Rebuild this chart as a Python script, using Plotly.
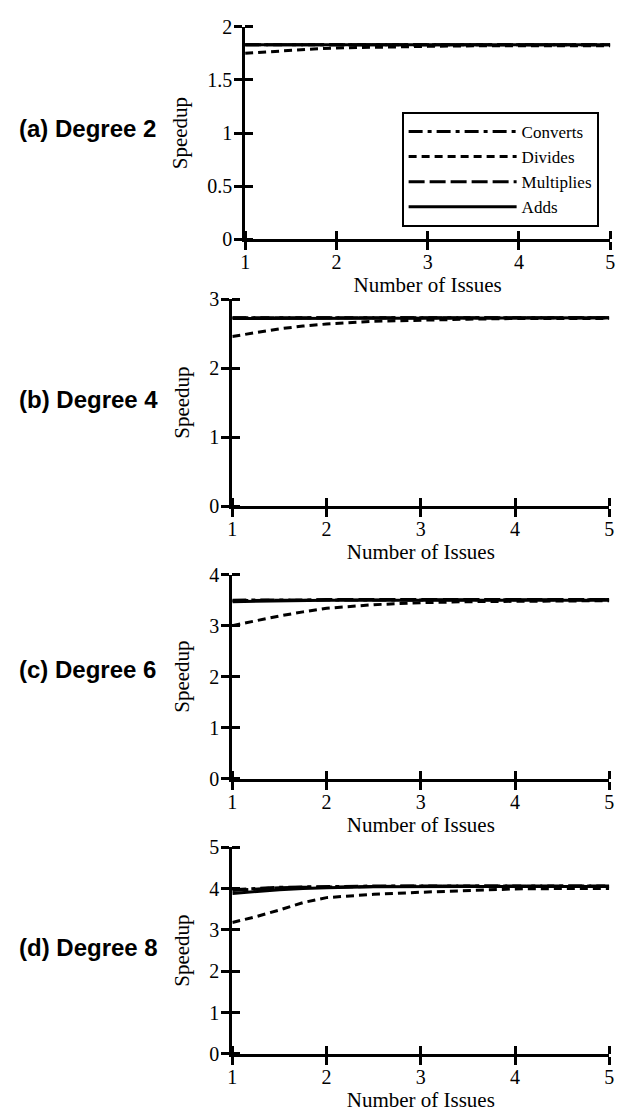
import plotly.graph_objects as go

# ---------------- data ----------------
issues = [1, 1.25, 1.5, 1.75, 2, 2.5, 3, 3.5, 4, 4.5, 5]
x_ticks = [1, 2, 3, 4, 5]

series_names = ["Converts", "Divides", "Multiplies", "Adds"]

# (a) Degree 2
deg2_converts = [1.83, 1.83, 1.83, 1.83, 1.83, 1.83, 1.83, 1.83, 1.83, 1.83, 1.83]
deg2_divides = [1.75, 1.765, 1.78, 1.79, 1.80, 1.81, 1.815, 1.82, 1.82, 1.82, 1.82]
deg2_multiplies = [1.83, 1.83, 1.83, 1.83, 1.83, 1.83, 1.83, 1.83, 1.83, 1.83, 1.83]
deg2_adds = [1.83, 1.83, 1.83, 1.83, 1.83, 1.83, 1.83, 1.83, 1.83, 1.83, 1.83]
deg2_yticks = [0, 0.5, 1, 1.5, 2]
deg2_yticktext = ["0", "0.5", "1", "1.5", "2"]

# (b) Degree 4
deg4_converts = [2.73, 2.73, 2.73, 2.73, 2.73, 2.73, 2.73, 2.73, 2.73, 2.73, 2.73]
deg4_divides = [2.46, 2.52, 2.57, 2.61, 2.64, 2.68, 2.70, 2.71, 2.72, 2.72, 2.72]
deg4_multiplies = [2.73, 2.73, 2.73, 2.73, 2.73, 2.73, 2.73, 2.73, 2.73, 2.73, 2.73]
deg4_adds = [2.72, 2.72, 2.73, 2.73, 2.73, 2.73, 2.73, 2.73, 2.73, 2.73, 2.73]
deg4_yticks = [0, 1, 2, 3]
deg4_yticktext = ["0", "1", "2", "3"]

# (c) Degree 6
deg6_converts = [3.50, 3.50, 3.50, 3.51, 3.51, 3.51, 3.51, 3.51, 3.51, 3.51, 3.51]
deg6_divides = [3.00, 3.10, 3.19, 3.27, 3.34, 3.41, 3.45, 3.47, 3.48, 3.49, 3.49]
deg6_multiplies = [3.49, 3.50, 3.50, 3.50, 3.51, 3.51, 3.51, 3.51, 3.51, 3.51, 3.51]
deg6_adds = [3.47, 3.48, 3.49, 3.50, 3.50, 3.50, 3.50, 3.50, 3.50, 3.50, 3.50]
deg6_yticks = [0, 1, 2, 3, 4]
deg6_yticktext = ["0", "1", "2", "3", "4"]

# (d) Degree 8
deg8_converts = [3.97, 4.00, 4.03, 4.04, 4.05, 4.06, 4.06, 4.06, 4.06, 4.06, 4.06]
deg8_divides = [3.18, 3.32, 3.48, 3.66, 3.78, 3.86, 3.91, 3.95, 3.99, 4.00, 4.00]
deg8_multiplies = [3.95, 3.99, 4.02, 4.03, 4.04, 4.05, 4.06, 4.06, 4.06, 4.06, 4.06]
deg8_adds = [3.88, 3.93, 3.97, 4.00, 4.02, 4.04, 4.05, 4.05, 4.05, 4.05, 4.05]
deg8_yticks = [0, 1, 2, 3, 4, 5]
deg8_yticktext = ["0", "1", "2", "3", "4", "5"]

panel_labels = ["(a) Degree 2", "(b) Degree 4", "(c) Degree 6", "(d) Degree 8"]
x_title = "Number of Issues"
y_title = "Speedup"

# ---------------- layout helpers ----------------
W, H = 631, 1114


def fx(px):
    return px / W


def fy(py):
    return 1 - py / H


panels = [
    dict(series=[deg2_converts, deg2_divides, deg2_multiplies, deg2_adds],
         yticks=deg2_yticks, yticktext=deg2_yticktext,
         xpx=(244, 615), ypx=(16, 233), label_y=120),
    dict(series=[deg4_converts, deg4_divides, deg4_multiplies, deg4_adds],
         yticks=deg4_yticks, yticktext=deg4_yticktext,
         xpx=(231, 614), ypx=(294, 505), label_y=396),
    dict(series=[deg6_converts, deg6_divides, deg6_multiplies, deg6_adds],
         yticks=deg6_yticks, yticktext=deg6_yticktext,
         xpx=(231, 614), ypx=(575, 783), label_y=672),
    dict(series=[deg8_converts, deg8_divides, deg8_multiplies, deg8_adds],
         yticks=deg8_yticks, yticktext=deg8_yticktext,
         xpx=(231, 614), ypx=(853, 1064), label_y=955),
]

dash_styles = {
    "Converts": "14px,5px,4px,5px",
    "Divides": "8px,5px",
    "Multiplies": "16px,5px",
    "Adds": "solid",
}

serif = "Liberation Serif, Times New Roman, serif"
sans = "Liberation Sans, Arial, sans-serif"

fig = go.Figure()
layout = dict(
    width=W, height=H,
    margin=dict(l=0, r=0, t=0, b=0),
    paper_bgcolor="white", plot_bgcolor="white",
    showlegend=True,
    legend=dict(
        x=fx(403), y=fy(103), xanchor="left", yanchor="top",
        bordercolor="black", borderwidth=2, bgcolor="white",
        font=dict(family=serif, size=17, color="black"),
        itemwidth=108, tracegroupgap=0,
    ),
    annotations=[],
)

for i, p in enumerate(panels, start=1):
    xa = "x" if i == 1 else f"x{i}"
    ya = "y" if i == 1 else f"y{i}"
    for name, vals in zip(series_names, p["series"]):
        fig.add_trace(go.Scatter(
            x=issues, y=vals, mode="lines", name=name,
            legendgroup=name, showlegend=(i == 1),
            line=dict(color="black", width=3, dash=dash_styles[name]),
            xaxis=xa, yaxis=ya,
        ))
    common_tick = dict(ticklen=8, tickwidth=3, tickcolor="black")
    layout[f"xaxis{i}"] = dict(
        domain=[fx(p["xpx"][0]), fx(p["xpx"][1])],
        range=[1, 5], anchor=ya,
        tickmode="array", tickvals=x_ticks, ticktext=[str(t) for t in x_ticks],
        ticks="outside", **common_tick,
        minor=dict(tickmode="array", tickvals=x_ticks, ticks="inside",
                   ticklen=8, tickwidth=3, tickcolor="black"),
        showline=True, linecolor="black", linewidth=3,
        showgrid=False, zeroline=False,
        tickfont=dict(family=serif, size=20, color="black"),
        ticklabelstandoff=-5,
        title=dict(text=x_title, standoff=2,
                   font=dict(family=serif, size=21, color="black")),
        fixedrange=True,
    )
    layout[f"yaxis{i}"] = dict(
        domain=[fy(p["ypx"][1]), fy(p["ypx"][0])],
        range=[0, p["yticks"][-1]], anchor=xa,
        tickmode="array", tickvals=p["yticks"], ticktext=p["yticktext"],
        ticks="outside", **common_tick,
        minor=dict(tickmode="array", tickvals=p["yticks"], ticks="inside",
                   ticklen=8, tickwidth=3, tickcolor="black"),
        showline=True, linecolor="black", linewidth=3,
        showgrid=False, zeroline=False,
        tickfont=dict(family=serif, size=20, color="black"),
        ticklabelstandoff=-2,
        title=dict(text=y_title, standoff=14,
                   font=dict(family=serif, size=21, color="black")),
        fixedrange=True,
    )
    layout["annotations"].append(dict(
        text=f"<b>{panel_labels[i-1]}</b>", xref="paper", yref="paper",
        x=fx(12), y=fy(p["label_y"]), xanchor="left", yanchor="middle",
        showarrow=False, font=dict(family=sans, size=24, color="black"),
    ))

fig.update_layout(**layout)
fig.write_html("out.html")
